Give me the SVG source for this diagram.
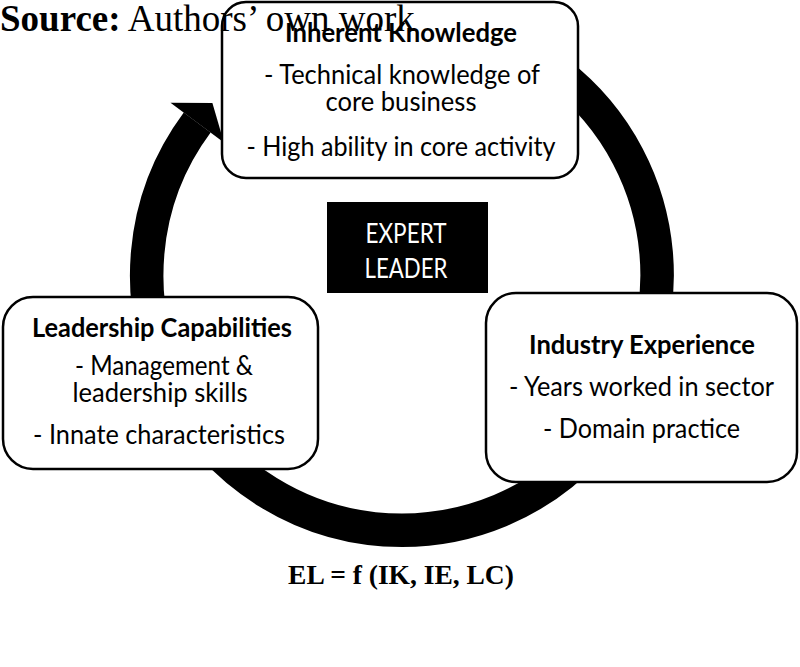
<svg xmlns="http://www.w3.org/2000/svg" width="800" height="667" viewBox="0 0 800 667">
<style>
.box{fill:#fff;stroke:#000;stroke-width:2.5}
.t{font-family:Lato,"Open Sans","Liberation Sans",sans-serif;font-size:27px;fill:#000;text-anchor:middle}
.b{font-weight:bold}
.w{fill:#fff}
.serif{font-family:"Liberation Serif","Times New Roman",serif;fill:#000}
.ring{fill:none;stroke:#000;stroke-width:33.5}
</style>
<rect width="800" height="667" fill="#fff"/>
<g id="connectors">
<path class="ring" d="M357.7,23.6 A255.25,255.25 0 1 1 402,530.25 A255.25,255.25 0 0 1 197.2,122.6"/>
<polygon points="170.5,102.8 212.4,103 223.9,142.5" fill="#000"/>
</g>
<g id="node-inherent">
<rect class="box" x="222" y="2" width="356" height="176" rx="24"/>
<text class="t b" x="401" y="42" textLength="232" lengthAdjust="spacingAndGlyphs">Inherent Knowledge</text>
<text class="t" x="402" y="84" textLength="276" lengthAdjust="spacingAndGlyphs">- Technical knowledge of</text>
<text class="t" x="401" y="111" textLength="151" lengthAdjust="spacingAndGlyphs">core business</text>
<text class="t" x="401" y="156" textLength="309" lengthAdjust="spacingAndGlyphs">- High ability in core activity</text>
</g>
<g id="node-expert">
<rect x="327" y="202" width="161" height="91" fill="#000"/>
<text class="t w" x="406" y="243" textLength="81" lengthAdjust="spacingAndGlyphs">EXPERT</text>
<text class="t w" x="406" y="278" textLength="83" lengthAdjust="spacingAndGlyphs">LEADER</text>
</g>
<g id="node-leadership">
<rect class="box" x="3" y="297" width="315" height="172" rx="30"/>
<text class="t b" x="162" y="337" textLength="260" lengthAdjust="spacingAndGlyphs">Leadership Capabilities</text>
<text class="t" x="164" y="375" textLength="178" lengthAdjust="spacingAndGlyphs">- Management &amp;</text>
<text class="t" x="160" y="402" textLength="175" lengthAdjust="spacingAndGlyphs">leadership skills</text>
<text class="t" x="159" y="444" textLength="252" lengthAdjust="spacingAndGlyphs">- Innate characteristics</text>
</g>
<g id="node-industry">
<rect class="box" x="486" y="293" width="311" height="189" rx="30"/>
<text class="t b" x="642" y="354" textLength="226" lengthAdjust="spacingAndGlyphs">Industry Experience</text>
<text class="t" x="641.5" y="396" textLength="265" lengthAdjust="spacingAndGlyphs">- Years worked in sector</text>
<text class="t" x="641.5" y="438" textLength="197" lengthAdjust="spacingAndGlyphs">- Domain practice</text>
</g>
<text class="serif" x="401" y="584" font-size="27.5" font-weight="bold" text-anchor="middle">EL = f (IK, IE, LC)</text>
<text class="serif" x="0" y="31" font-size="37"><tspan font-weight="bold">Source:</tspan> Authors’ own work</text>
</svg>
